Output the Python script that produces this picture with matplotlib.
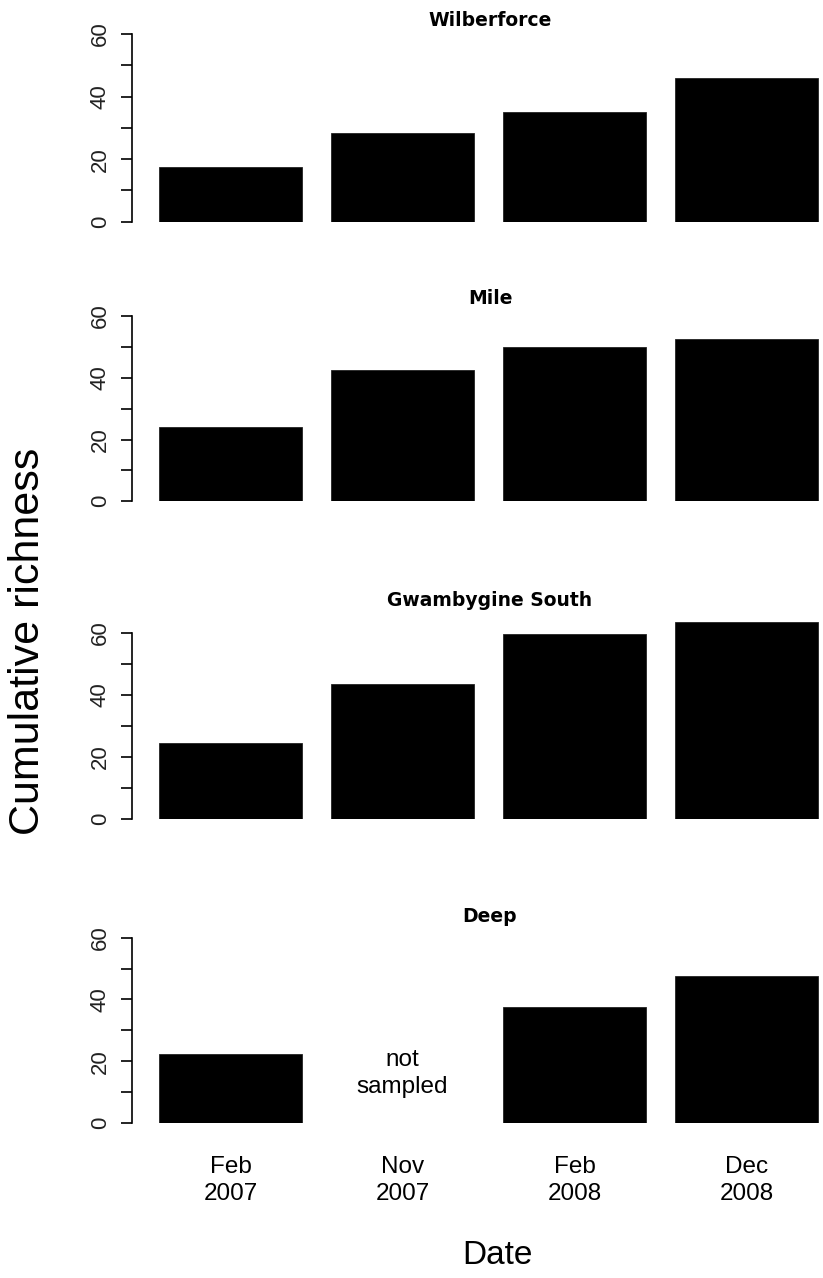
import matplotlib.pyplot as plt
import numpy as np

plt.rcParams['font.family'] = ['Liberation Sans', 'DejaVu Sans']

sites = ['Wilberforce', 'Mile', 'Gwambygine South', 'Deep']
dates = ['Feb\n2007', 'Nov\n2007', 'Feb\n2008', 'Dec\n2008']
wilberforce = [17.5, 28.5, 35, 46]
mile = [24, 42.5, 50, 52.5]
gwambygine = [24.5, 43.5, 59.5, 63.5]
deep = [22.5, np.nan, 37.5, 47.5]  # Nov 2007 not sampled
values = [wilberforce, mile, gwambygine, deep]

W, H = 823, 1278
fig = plt.figure(figsize=(W / 100, H / 100), dpi=100)

# pixel rows of the 0 and 60 ticks for each panel, and title centre
zero_px = [221.7, 501.3, 818.7, 1123]
sixty_px = [34, 316, 632.7, 937.7]
title_px = [20, 298, 600, 917]

# R barplot geometry: width 1, space 0.2
centers = 0.7 + 1.2 * np.arange(4)
ax_left, ax_right = 131.7, 823
bar_left_px = 159
ppx = 143.3
xlo = 0.2 - (bar_left_px - ax_left) / ppx
xhi = 0.2 + (ax_right - bar_left_px) / ppx
ytop = 66

for i, (site, vals) in enumerate(zip(sites, values)):
    ppu = (zero_px[i] - sixty_px[i]) / 60
    bottom = 1 - zero_px[i] / H
    height = ytop * ppu / H
    ax = fig.add_axes([ax_left / W, bottom, (ax_right - ax_left) / W, height])
    v = np.array(vals, dtype=float)
    ok = ~np.isnan(v)
    ax.bar(centers[ok], v[ok], width=1.0, color='black', edgecolor='#222222', linewidth=0.6)
    ax.set_xlim(xlo, xhi)
    ax.set_ylim(0, ytop)
    for s in ['top', 'right', 'bottom']:
        ax.spines[s].set_visible(False)
    ax.spines['left'].set_bounds(0, 60)
    ax.spines['left'].set_linewidth(1.2)
    ax.set_yticks(np.arange(0, 61, 10))
    ax.set_yticklabels(['0', '', '20', '', '40', '', '60'], rotation=90, va='center',
                       fontsize=16, color='#222222')
    ax.tick_params(axis='y', length=8, width=1.2, pad=7)
    if i == 3:
        ax.set_xticks(centers)
        ax.set_xticklabels(dates, fontsize=17.5, linespacing=1.25)
        ax.tick_params(axis='x', length=0, pad=24)
        ax.text(centers[1], 16, 'not\nsampled', ha='center', va='center',
                fontsize=17.5, linespacing=1.25)
    else:
        ax.set_xticks([])
    fig.text(490 / W, 1 - title_px[i] / H, site, ha='center', va='center',
             fontsize=13.5, fontweight='bold', family='DejaVu Sans')

fig.text(28 / W, 1 - 641 / H, 'Cumulative richness', rotation=90,
         ha='center', va='center', fontsize=31)
fig.text(497 / W, 1 - 1255 / H, 'Date', ha='center', va='center', fontsize=24)

fig.savefig('out.png', dpi=100)
